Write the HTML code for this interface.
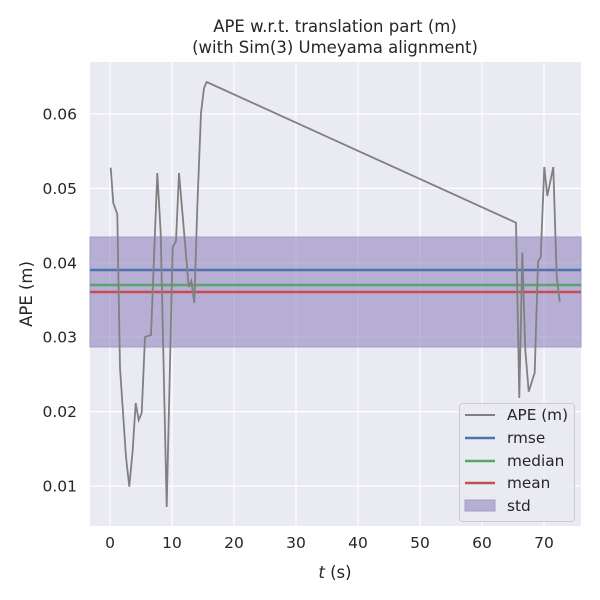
<!DOCTYPE html>
<html><head><style>body{margin:0;background:#fff}svg{display:block}text{font-family:"DejaVu Sans","Liberation Sans",sans-serif;fill:#262626}</style></head><body>
<svg width="600" height="600" viewBox="0 0 600 600">
<rect x="90" y="62" width="491" height="464" fill="#eaeaf2"/>
<g stroke="#fff" stroke-width="1.2">
<line x1="110" y1="62" x2="110" y2="526"/><line x1="172" y1="62" x2="172" y2="526"/><line x1="234" y1="62" x2="234" y2="526"/><line x1="296" y1="62" x2="296" y2="526"/><line x1="358" y1="62" x2="358" y2="526"/><line x1="420" y1="62" x2="420" y2="526"/><line x1="482" y1="62" x2="482" y2="526"/><line x1="544" y1="62" x2="544" y2="526"/>
<line x1="90" y1="486" x2="581" y2="486"/><line x1="90" y1="411.6" x2="581" y2="411.6"/><line x1="90" y1="337.2" x2="581" y2="337.2"/><line x1="90" y1="262.8" x2="581" y2="262.8"/><line x1="90" y1="188.4" x2="581" y2="188.4"/><line x1="90" y1="114" x2="581" y2="114"/>
</g>
<rect x="90" y="237" width="491" height="110" fill="#8172b3" fill-opacity="0.5" stroke="#a49bcc"/>
<line x1="90" y1="270" x2="581" y2="270" stroke="#4c72b0" stroke-width="2.5"/>
<line x1="90" y1="285" x2="581" y2="285" stroke="#55a868" stroke-width="2.5"/>
<line x1="90" y1="292" x2="581" y2="292" stroke="#c44e52" stroke-width="2.5"/>
<polyline fill="none" stroke="#808080" stroke-width="1.8" points="110.7,167.7 113.3,203 117.3,214 120,368 126,457 129.3,486.7 132.7,450 135.7,403 138.7,420 141.7,413 145,337 151,335 157.3,173 160.7,233 166.7,507 172.7,247 176,241 179,173 185,243 188.7,287 191.3,281 194.3,303 197.3,207 201,113 204,88 206.7,82 516,222.7 519.3,398 522.3,252.7 525.3,350 528.7,391.7 534.7,372.7 538,261.7 540.7,257 544.3,167 547.3,196 553.3,167 556.7,276.7 559.7,301.7"/>
<g font-size="15.5" text-anchor="middle">
<text x="110" y="548">0</text><text x="172" y="548">10</text><text x="234" y="548">20</text><text x="296" y="548">30</text><text x="358" y="548">40</text><text x="420" y="548">50</text><text x="482" y="548">60</text><text x="544" y="548">70</text>
</g>
<g font-size="15.5" text-anchor="end">
<text x="77" y="491.5">0.01</text><text x="77" y="417">0.02</text><text x="77" y="342.7">0.03</text><text x="77" y="268.3">0.04</text><text x="77" y="193.9">0.05</text><text x="77" y="119.5">0.06</text>
</g>
<text x="335" y="578" font-size="16.5" text-anchor="middle"><tspan font-style="italic">t</tspan> (s)</text>
<text transform="translate(32,294) rotate(-90)" font-size="16.5" text-anchor="middle">APE (m)</text>
<text x="335" y="32" font-size="16.5" text-anchor="middle">APE w.r.t. translation part (m)</text>
<text x="335" y="53" font-size="16.5" text-anchor="middle">(with Sim(3) Umeyama alignment)</text>
<rect x="459.5" y="403.5" width="115" height="118" rx="3" fill="#eaeaf2" fill-opacity="0.8" stroke="#ccc"/>
<g font-size="15.3">
<line x1="465" y1="415" x2="495" y2="415" stroke="#808080" stroke-width="2"/><text x="507" y="420">APE (m)</text>
<line x1="465" y1="438" x2="495" y2="438" stroke="#4c72b0" stroke-width="2.5"/><text x="507" y="443">rmse</text>
<line x1="465" y1="461" x2="495" y2="461" stroke="#55a868" stroke-width="2.5"/><text x="507" y="466">median</text>
<line x1="465" y1="483" x2="495" y2="483" stroke="#c44e52" stroke-width="2.5"/><text x="507" y="488">mean</text>
<rect x="465" y="500" width="30" height="11" fill="#8172b3" fill-opacity="0.5" stroke="#a49bcc"/><text x="507" y="511">std</text>
</g>
</svg>
</body></html>
